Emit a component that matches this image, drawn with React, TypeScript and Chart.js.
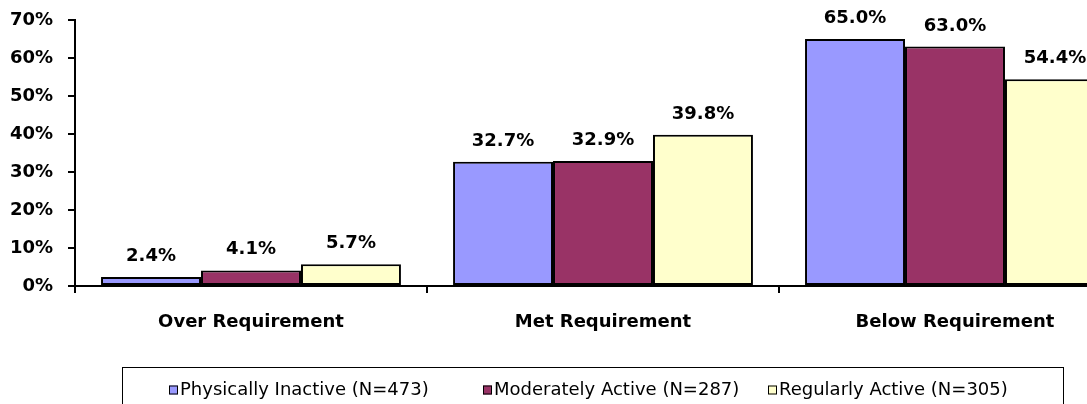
import React, { useEffect, useRef } from "react";
import { Chart, registerables } from "chart.js";

Chart.register(...registerables);

const categories = ["Over Requirement", "Met Requirement", "Below Requirement"];
const seriesLabels = [
  "Physically Inactive (N=473)",
  "Moderately Active (N=287)",
  "Regularly Active (N=305)",
];
const physicallyInactive = [2.4, 32.7, 65.0];
const moderatelyActive = [4.1, 32.9, 63.0];
const regularlyActive = [5.7, 39.8, 54.4];
const seriesColors = ["#9999FF", "#993366", "#FFFFCC"];
const yTicks = [0, 10, 20, 30, 40, 50, 60, 70];

const FONT = "'DejaVu Sans', 'Liberation Sans', Arial, sans-serif";
const LEGEND_ITEM_X = [169, 483, 768];

const dataLabelPlugin = {
  id: "dataLabels",
  afterDatasetsDraw(chart: any) {
    const ctx = chart.ctx;
    ctx.save();
    ctx.font = `bold 18px ${FONT}`;
    ctx.fillStyle = "#000";
    ctx.textAlign = "center";
    ctx.textBaseline = "alphabetic";
    chart.data.datasets.forEach((ds: any, di: number) => {
      const meta = chart.getDatasetMeta(di);
      meta.data.forEach((bar: any, i: number) => {
        const v = ds.data[i];
        ctx.fillText(v.toFixed(1) + "%", bar.x, bar.y - 16);
      });
    });
    ctx.restore();
  },
};

const boxLegendPlugin = {
  id: "boxLegend",
  afterDraw(chart: any) {
    const ctx = chart.ctx;
    ctx.save();
    ctx.strokeStyle = "#000";
    ctx.lineWidth = 1;
    ctx.strokeRect(122.5, 367.5, 941, 60);
    ctx.font = `18px ${FONT}`;
    ctx.textBaseline = "middle";
    ctx.textAlign = "left";
    const y = 390;
    chart.data.datasets.forEach((ds: any, i: number) => {
      const x = LEGEND_ITEM_X[i];
      ctx.fillStyle = ds.backgroundColor;
      ctx.fillRect(x, y - 4.5, 9, 9);
      ctx.strokeStyle = "#000";
      ctx.lineWidth = 1;
      ctx.strokeRect(x + 0.5, y - 4, 8, 8);
      ctx.fillStyle = "#000";
      ctx.fillText(ds.label, x + 11, y);
    });
    ctx.restore();
  },
};

export default function App() {
  const canvasRef = useRef<HTMLCanvasElement | null>(null);

  useEffect(() => {
    const canvas = canvasRef.current;
    if (!canvas) return;
    const data = [physicallyInactive, moderatelyActive, regularlyActive];
    const chart = new Chart(canvas, {
      type: "bar",
      data: {
        labels: categories,
        datasets: seriesLabels.map((label, i) => ({
          label,
          data: data[i],
          backgroundColor: seriesColors[i],
          borderColor: "#000",
          borderWidth: 2,
          borderSkipped: false,
          categoryPercentage: 0.852,
          barPercentage: 1,
        })),
      },
      options: {
        responsive: false,
        animation: false,
        devicePixelRatio: 1,
        layout: { padding: { left: 0, top: 20, right: 0, bottom: 58 } },
        plugins: {
          legend: { display: false },
          tooltip: { enabled: false },
        },
        scales: {
          x: {
            afterFit: (s: any) => {
              s.height = 60;
              s.paddingLeft = 0;
              s.paddingRight = 0;
            },
            grid: {
              display: true,
              drawOnChartArea: false,
              drawTicks: true,
              tickLength: 7,
              color: "#000",
              lineWidth: 2,
              offset: true,
            },
            border: { display: true, color: "#000", width: 2 },
            ticks: {
              color: "#000",
              padding: 19,
              font: { family: FONT, size: 18, weight: "bold" },
              maxRotation: 0,
            },
          },
          y: {
            min: yTicks[0],
            max: yTicks[yTicks.length - 1],
            afterFit: (s: any) => {
              s.width = 75;
              s.paddingTop = 0;
              s.paddingBottom = 0;
            },
            afterBuildTicks: (s: any) => {
              s.ticks = yTicks.map((v) => ({ value: v }));
            },
            grid: {
              display: true,
              drawOnChartArea: false,
              drawTicks: true,
              tickLength: 7,
              color: "#000",
              lineWidth: 2,
            },
            border: { display: true, color: "#000", width: 2 },
            ticks: {
              color: "#000",
              padding: 15,
              font: { family: FONT, size: 18, weight: "bold" },
              callback: (v: any) => v + "%",
            },
          },
        },
      },
      plugins: [dataLabelPlugin, boxLegendPlugin],
    });
    return () => chart.destroy();
  }, []);

  return (
    <div
      style={{
        position: "fixed",
        left: 0,
        top: 0,
        width: 1087,
        height: 404,
        overflow: "hidden",
        background: "#fff",
      }}
    >
      <canvas ref={canvasRef} width={1131} height={404} style={{ display: "block" }} />
    </div>
  );
}
